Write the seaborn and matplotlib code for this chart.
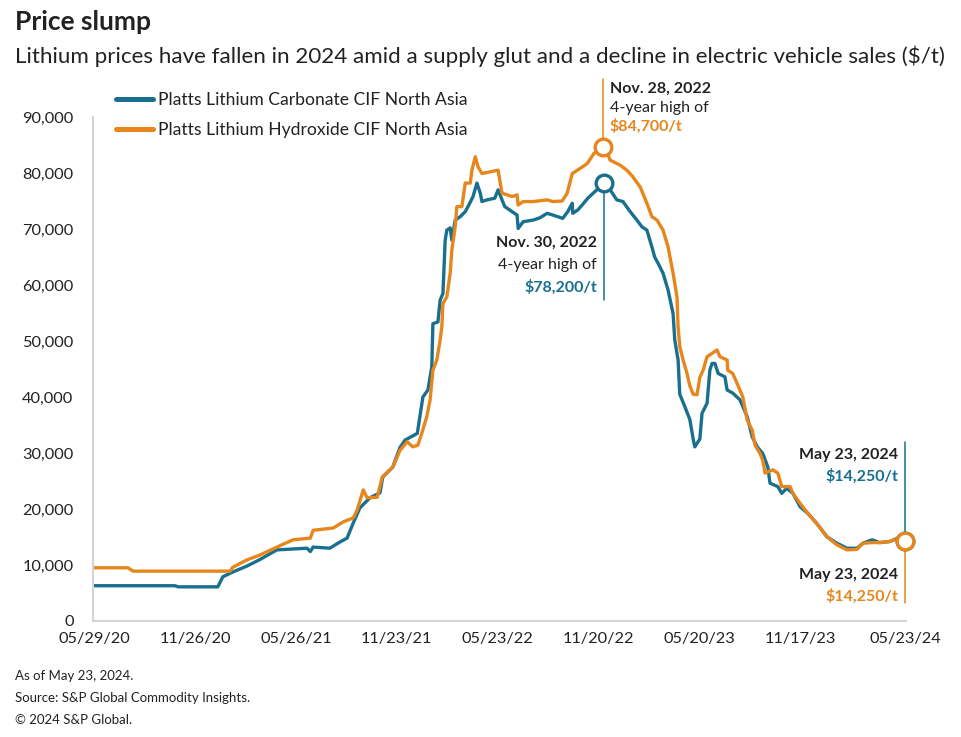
import pandas as pd
import matplotlib.pyplot as plt
import seaborn as sns

# Platts Lithium Carbonate CIF North Asia ($/t)
carbonate_dates = [
    "2020-05-29", "2020-10-21", "2020-10-27", "2021-01-06", "2021-01-15", "2021-02-02",
    "2021-02-27", "2021-03-23", "2021-04-22", "2021-06-15", "2021-06-21", "2021-06-26",
    "2021-07-26", "2021-08-13", "2021-08-26", "2021-09-06", "2021-09-18", "2021-10-06",
    "2021-10-24", "2021-10-29", "2021-11-16", "2021-11-29", "2021-12-08", "2021-12-30",
    "2022-01-09", "2022-01-18", "2022-01-25", "2022-01-27", "2022-02-05", "2022-02-09",
    "2022-02-14", "2022-02-18", "2022-02-21", "2022-02-27", "2022-03-02", "2022-03-08",
    "2022-03-17", "2022-03-26", "2022-03-31", "2022-04-09", "2022-04-16", "2022-04-22",
    "2022-04-25", "2022-05-04", "2022-05-18", "2022-05-24", "2022-05-31", "2022-06-05",
    "2022-06-18", "2022-06-27", "2022-06-29", "2022-07-08", "2022-07-26", "2022-08-07",
    "2022-08-20", "2022-08-30", "2022-09-17", "2022-09-26", "2022-10-04", "2022-10-05",
    "2022-10-14", "2022-10-22", "2022-11-01", "2022-11-14", "2022-11-30", "2022-12-11",
    "2022-12-23", "2023-01-03", "2023-01-16", "2023-01-28", "2023-02-06", "2023-02-15",
    "2023-02-24", "2023-03-01", "2023-03-07", "2023-03-16", "2023-03-25", "2023-04-03",
    "2023-04-06", "2023-04-12", "2023-04-15", "2023-04-24", "2023-05-03", "2023-05-10",
    "2023-05-12", "2023-05-21", "2023-05-25", "2023-06-03", "2023-06-08", "2023-06-12",
    "2023-06-17", "2023-06-23", "2023-07-05", "2023-07-09", "2023-07-19", "2023-08-01",
    "2023-08-14", "2023-08-23", "2023-09-01", "2023-09-11", "2023-09-20", "2023-09-24",
    "2023-10-08", "2023-10-15", "2023-10-24", "2023-11-04", "2023-11-17", "2023-12-01",
    "2023-12-17", "2024-01-04", "2024-01-22", "2024-02-09", "2024-02-27", "2024-03-09",
    "2024-03-25", "2024-04-08", "2024-04-26", "2024-05-10", "2024-05-23",
]
carbonate_prices = [
    6300, 6300, 6100, 6100, 7900, 8750,
    9800, 11000, 12700, 13000, 12400, 13200,
    13000, 14100, 14800, 17500, 20200, 22000,
    22900, 25700, 27500, 31000, 32300, 33500,
    40000, 41250, 45400, 53100, 53400, 57300,
    58500, 68000, 69800, 70200, 68000, 71600,
    72200, 73100, 74000, 75800, 78200, 76400,
    74900, 75200, 75500, 77000, 75200, 74000,
    73100, 72500, 70100, 71300, 71600, 72000,
    72800, 72500, 71900, 73100, 74600, 72800,
    73400, 74300, 75500, 76700, 78200, 77000,
    75200, 74900, 73100, 71600, 70400, 69800,
    66800, 65000, 63900, 62100, 59100, 54900,
    50200, 46600, 40500, 38300, 36000, 32000,
    31100, 32500, 37100, 38900, 44800, 46000,
    46000, 44200, 43600, 41250, 40700, 39500,
    36500, 32900, 31100, 29900, 27500, 24600,
    24000, 22800, 23700, 22800, 20400, 19200,
    17400, 15050, 13900, 13000, 13000, 13900,
    14500, 14000, 14200, 14800, 14250,
]

# Platts Lithium Hydroxide CIF North Asia ($/t)
hydroxide_dates = [
    "2020-05-29", "2020-07-29", "2020-08-07", "2021-01-28", "2021-02-02", "2021-02-27",
    "2021-03-23", "2021-04-22", "2021-05-21", "2021-06-21", "2021-06-26", "2021-08-01",
    "2021-08-19", "2021-09-06", "2021-09-13", "2021-09-24", "2021-10-01", "2021-10-19",
    "2021-10-28", "2021-11-16", "2021-11-24", "2021-11-29", "2021-12-12", "2021-12-22",
    "2021-12-31", "2022-01-07", "2022-01-16", "2022-01-22", "2022-01-27", "2022-02-03",
    "2022-02-09", "2022-02-12", "2022-02-14", "2022-02-21", "2022-02-27", "2022-03-02",
    "2022-03-08", "2022-03-11", "2022-03-20", "2022-03-26", "2022-04-04", "2022-04-07",
    "2022-04-13", "2022-04-18", "2022-04-25", "2022-05-09", "2022-05-24", "2022-05-31",
    "2022-06-09", "2022-06-18", "2022-06-27", "2022-06-29", "2022-07-08", "2022-07-26",
    "2022-08-20", "2022-08-30", "2022-09-16", "2022-09-25", "2022-10-04", "2022-10-18",
    "2022-10-31", "2022-11-12", "2022-11-28", "2022-12-05", "2022-12-11", "2022-12-29",
    "2023-01-10", "2023-01-21", "2023-02-03", "2023-02-15", "2023-02-24", "2023-03-05",
    "2023-03-16", "2023-03-25", "2023-04-03", "2023-04-10", "2023-04-12", "2023-04-15",
    "2023-04-21", "2023-04-28", "2023-05-03", "2023-05-09", "2023-05-16", "2023-05-21",
    "2023-05-27", "2023-06-03", "2023-06-12", "2023-06-21", "2023-06-26", "2023-07-09",
    "2023-07-10", "2023-07-19", "2023-07-27", "2023-08-06", "2023-08-14", "2023-08-23",
    "2023-08-28", "2023-09-06", "2023-09-11", "2023-09-15", "2023-09-29", "2023-10-08",
    "2023-10-15", "2023-10-30", "2023-11-04", "2023-11-17", "2023-12-01", "2023-12-17",
    "2024-01-04", "2024-01-22", "2024-02-09", "2024-02-27", "2024-03-09", "2024-03-25",
    "2024-04-08", "2024-04-26", "2024-05-10", "2024-05-23",
]
hydroxide_prices = [
    9500, 9500, 8900, 8900, 9600, 10900,
    11800, 13200, 14500, 14800, 16200, 16600,
    17700, 18400, 19800, 23400, 22000, 22100,
    25700, 27500, 29300, 30500, 32000, 31100,
    31400, 33500, 36500, 39500, 44800, 46600,
    50200, 52500, 56700, 57900, 62100, 66250,
    70400, 74000, 74000, 78200, 78200, 80500,
    82900, 81100, 79900, 80200, 80500, 76400,
    76100, 75800, 76100, 74300, 74900, 74900,
    75200, 74900, 75000, 76400, 79900, 80800,
    81700, 83500, 84700, 83800, 82300, 81400,
    80500, 79300, 77500, 74600, 72200, 71600,
    69800, 66800, 62100, 57900, 52500, 49000,
    46600, 44200, 42000, 40500, 40400, 43500,
    44800, 47200, 47800, 48400, 47200, 46600,
    44800, 44200, 42400, 40050, 35900, 34100,
    31400, 29900, 28700, 26400, 27000, 26400,
    24000, 24000, 22800, 21000, 19200, 17400,
    15050, 13600, 12700, 12800, 13900, 14000,
    14000, 14200, 14800, 14250,
]

series_names = [
    "Platts Lithium Carbonate CIF North Asia",
    "Platts Lithium Hydroxide CIF North Asia",
]
tick_dates = [
    "2020-05-29", "2020-11-26", "2021-05-26", "2021-11-23", "2022-05-23",
    "2022-11-20", "2023-05-20", "2023-11-17", "2024-05-23",
]
y_ticks = [0, 10000, 20000, 30000, 40000, 50000, 60000, 70000, 80000, 90000]

TEAL = "#18708e"
ORANGE = "#e6861d"
TEXT = "#222222"

df = pd.concat([
    pd.DataFrame({"date": pd.to_datetime(carbonate_dates), "price": carbonate_prices,
                  "series": series_names[0]}),
    pd.DataFrame({"date": pd.to_datetime(hydroxide_dates), "price": hydroxide_prices,
                  "series": series_names[1]}),
], ignore_index=True)

sns.set_theme(style="white")
plt.rcParams["font.family"] = ["Lato", "DejaVu Sans"]
plt.rcParams["text.color"] = TEXT

fig = plt.figure(figsize=(9.61, 7.37), dpi=100)
ax = fig.add_axes([93 / 961, 1 - 621 / 737, 813 / 961, 504 / 737])

sns.lineplot(data=df, x="date", y="price", hue="series", palette=[TEAL, ORANGE],
             estimator=None, linewidth=2.4, ax=ax)

ax.set_ylim(0, 90000)
ax.set_xlim(pd.Timestamp("2020-05-27"), pd.Timestamp("2024-05-25"))
ax.set_yticks(y_ticks)
ax.set_yticklabels([f"{v:,}" for v in y_ticks])
ax.set_xticks(pd.to_datetime(tick_dates))
ax.set_xticklabels([pd.Timestamp(d).strftime("%m/%d/%y") for d in tick_dates])
ax.tick_params(axis="both", length=0, labelsize=11.8, colors=TEXT)
ax.tick_params(axis="y", pad=14)
ax.tick_params(axis="x", pad=8)
ax.set_xlabel("")
ax.set_ylabel("")
sns.despine(ax=ax)
for side in ["left", "bottom"]:
    ax.spines[side].set_color("#d4d4d4")
    ax.spines[side].set_linewidth(1.5)

ax.legend(loc="upper left", bbox_to_anchor=(107 / 961, 1 - 83 / 737),
          bbox_transform=fig.transFigure, frameon=False, fontsize=12.6, borderpad=0,
          handlelength=2.1, handletextpad=0.3, labelspacing=0.8)
for line in ax.get_legend().get_lines():
    line.set_linewidth(3.6)
    line.set_solid_capstyle("round")

# highlighted points: vertical leader, open circle, labels
def callout(date, value, color, line_to, lines, dx, dy0, step, ha):
    d = pd.Timestamp(date)
    ax.plot([d, d], [value, line_to], color=color, lw=1.1, clip_on=False, zorder=4)
    ax.plot([d], [value], marker="o", ms=12, mfc="white", mec=color, mew=2.4,
            clip_on=False, zorder=5)
    for i, (txt, col, bold) in enumerate(lines):
        ax.annotate(txt, xy=(d, value), xytext=(dx, dy0 - i * step),
                    textcoords="offset pixels", ha=ha, va="center", fontsize=11.5,
                    color=col, fontweight="bold" if bold else "normal")

callout("2022-11-28", 84700, ORANGE, 96800,
        [("Nov. 28, 2022", TEXT, True), ("4-year high of", TEXT, False),
         ("$84,700/t", ORANGE, True)], 7, 58, 19, "left")
callout("2022-11-30", 78200, TEAL, 57300,
        [("Nov. 30, 2022", TEXT, True), ("4-year high of", TEXT, False),
         ("$78,200/t", TEAL, True)], -7, -60, 22, "right")
callout("2024-05-23", 14250, TEAL, 31900,
        [("May 23, 2024", TEXT, True), ("$14,250/t", TEAL, True)], -7, 86, 21, "right")
callout("2024-05-23", 14250, ORANGE, 3300,
        [("May 23, 2024", TEXT, True), ("$14,250/t", ORANGE, True)], -7, -34, 21, "right")

fig.text(15 / 961, 1 - 22 / 737, "Price slump", fontsize=19, fontweight="bold",
         va="center", ha="left")
fig.text(15 / 961, 1 - 56 / 737,
         "Lithium prices have fallen in 2024 amid a supply glut and a decline in electric vehicle sales ($/t)",
         fontsize=16.1, va="center", ha="left")
footer = ["As of May 23, 2024.", "Source: S&P Global Commodity Insights.", "\u00a9 2024 S&P Global."]
for i, line in enumerate(footer):
    fig.text(15 / 961, 1 - (676 + i * 22) / 737, line, fontsize=9.5, va="center", ha="left")

fig.savefig("out.png", dpi=100, facecolor="white")
